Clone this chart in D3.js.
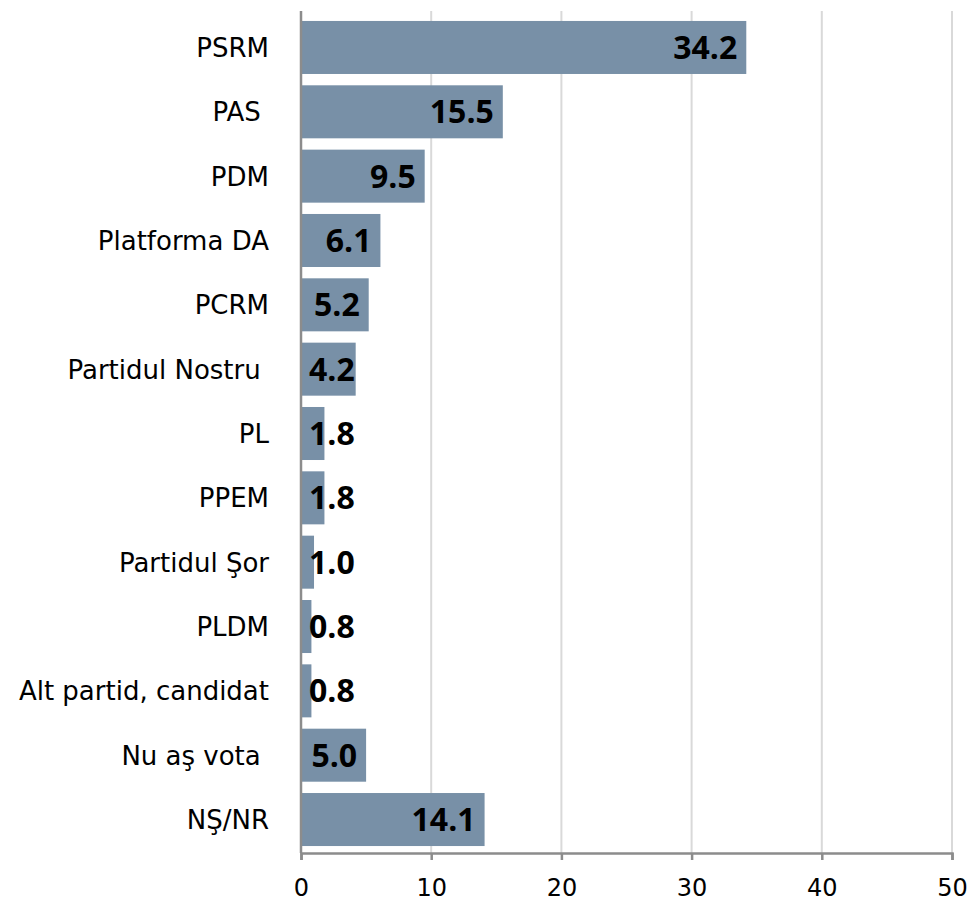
<!DOCTYPE html>
<html><head><meta charset="utf-8">
<script src="https://cdn.jsdelivr.net/npm/d3@7"></script>
<style>body{margin:0;background:#fff}</style>
</head><body>
<svg id="c" width="974" height="903"></svg>
<script>
const categories = ["PSRM","PAS ","PDM","Platforma DA","PCRM","Partidul Nostru ","PL","PPEM","Partidul Şor","PLDM","Alt partid, candidat","Nu aş vota ","NŞ/NR"];
const values = [34.2,15.5,9.5,6.1,5.2,4.2,1.8,1.8,1.0,0.8,0.8,5.0,14.1];
const tickValues = [0,10,20,30,40,50];

const svg = d3.select("#c");
const x = d3.scaleLinear().domain([0,50]).range([301,952]);
const y = d3.scaleBand().domain(categories).range([15.3,851.7]).paddingInner(0.176).paddingOuter(0.088);

// gridlines
svg.append("g").selectAll("line").data(tickValues.slice(1)).join("line")
  .attr("x1",d=>x(d)).attr("x2",d=>x(d)).attr("y1",11).attr("y2",853)
  .attr("stroke","#d9d9d9").attr("stroke-width",2);

// bars
svg.append("g").selectAll("rect").data(values).join("rect")
  .attr("x",x(0)).attr("y",(d,i)=>y(categories[i]))
  .attr("width",d=>x(d)-x(0)).attr("height",y.bandwidth())
  .attr("fill","#7890a7");

// axes
const xAxis = d3.axisBottom(x).tickValues(tickValues).tickSize(7).tickPadding(19).tickFormat(d3.format("d"));
const gx = svg.append("g").attr("transform","translate(0,853)").call(xAxis);
gx.select(".domain").attr("stroke","#8c8c8c").attr("stroke-width",2.5);
gx.selectAll(".tick line").attr("stroke","#8c8c8c").attr("stroke-width",2.5);
gx.selectAll(".tick text").attr("font-family","DejaVu Sans, Verdana, sans-serif").attr("font-size",24).attr("fill","#000");

svg.append("line").attr("x1",x(0)).attr("x2",x(0)).attr("y1",11).attr("y2",853)
  .attr("stroke","#8c8c8c").attr("stroke-width",2.5);

// category labels
svg.append("g").selectAll("text").data(categories).join("text")
  .attr("x",269).attr("y",d=>y(d)+y.bandwidth()/2).attr("dy","0.36em")
  .attr("text-anchor","end").style("white-space","pre")
  .attr("font-family","DejaVu Sans, Verdana, sans-serif").attr("font-size",26).attr("fill","#000")
  .text(d=>d);

// value labels
const vl = svg.append("g").selectAll("text").data(values).join("text")
  .attr("y",(d,i)=>y(categories[i])+y.bandwidth()/2).attr("dy","0.36em")
  .attr("text-anchor","end")
  .attr("font-family","Open Sans, Liberation Sans, sans-serif").attr("font-weight","bold").attr("font-size",32).attr("fill","#000")
  .text(d=>d.toFixed(1));
vl.each(function(d){
  const w = this.getComputedTextLength();
  this.setAttribute("x", Math.max(x(d)-9, x(0)+8+w));
});
</script>
</body></html>
